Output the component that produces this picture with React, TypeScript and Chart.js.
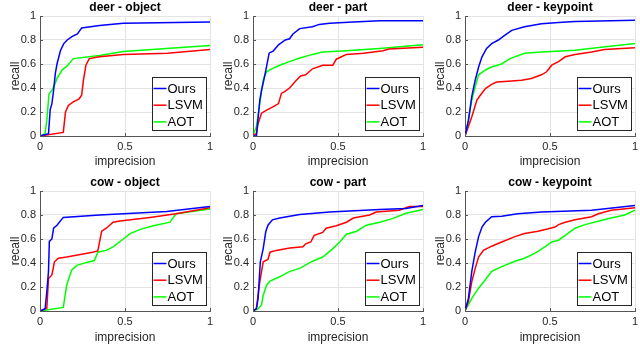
import React, { useEffect, useRef } from "react";
import { Chart, registerables } from "chart.js";

Chart.register(...registerables);

const seriesLabels = ["Ours", "LSVM", "AOT"];
const seriesColors = ["#0000ff", "#ff0000", "#00ff00"];
const xTickValues = [0, 0.5, 1];
const yTickValues = [0, 0.2, 0.4, 0.6, 0.8, 1];

// [imprecision, recall]
const deerObjectOurs = [[0,0],[0.05,0.02],[0.06,0.22],[0.07,0.27],[0.08,0.38],[0.09,0.52],[0.10,0.60],[0.12,0.71],[0.14,0.77],[0.16,0.80],[0.19,0.83],[0.22,0.85],[0.235,0.88],[0.245,0.90],[0.35,0.92],[0.49,0.94],[1,0.95]];
const deerObjectLsvm = [[0,0],[0.137,0.03],[0.15,0.2],[0.167,0.255],[0.196,0.285],[0.23,0.31],[0.245,0.34],[0.255,0.46],[0.27,0.59],[0.29,0.645],[0.35,0.66],[0.49,0.68],[0.75,0.69],[1,0.72]];
const deerObjectAot = [[0,0],[0.03,0.02],[0.04,0.13],[0.053,0.35],[0.07,0.38],[0.09,0.44],[0.10,0.48],[0.13,0.55],[0.157,0.58],[0.196,0.645],[0.35,0.67],[0.49,0.705],[0.745,0.73],[1,0.755]];

const deerPartOurs = [[0,0],[0.02,0],[0.04,0.3],[0.05,0.38],[0.06,0.44],[0.08,0.58],[0.095,0.69],[0.12,0.71],[0.15,0.76],[0.19,0.80],[0.215,0.81],[0.235,0.85],[0.275,0.895],[0.35,0.91],[0.39,0.93],[0.45,0.94],[0.59,0.95],[0.745,0.96],[1,0.96]];
const deerPartLsvm = [[0,0],[0.02,0.02],[0.03,0.105],[0.05,0.19],[0.08,0.215],[0.12,0.245],[0.15,0.27],[0.167,0.355],[0.186,0.37],[0.215,0.40],[0.255,0.465],[0.28,0.50],[0.31,0.51],[0.35,0.56],[0.41,0.59],[0.47,0.59],[0.49,0.64],[0.52,0.66],[0.55,0.68],[0.65,0.69],[0.765,0.71],[0.80,0.725],[1,0.74]];
const deerPartAot = [[0,0],[0.02,0.08],[0.04,0.27],[0.06,0.47],[0.08,0.535],[0.11,0.56],[0.157,0.59],[0.215,0.62],[0.275,0.65],[0.35,0.68],[0.41,0.70],[0.55,0.71],[0.745,0.73],[1,0.76]];

const deerKeypointOurs = [[0,0],[0.02,0.13],[0.04,0.33],[0.06,0.465],[0.08,0.575],[0.10,0.66],[0.127,0.73],[0.157,0.77],[0.196,0.80],[0.235,0.84],[0.275,0.88],[0.35,0.91],[0.45,0.935],[0.55,0.945],[0.647,0.955],[1,0.965]];
const deerKeypointLsvm = [[0,0],[0.02,0.08],[0.04,0.16],[0.07,0.30],[0.09,0.34],[0.12,0.395],[0.157,0.43],[0.186,0.45],[0.255,0.457],[0.333,0.465],[0.39,0.48],[0.45,0.51],[0.48,0.535],[0.51,0.59],[0.55,0.62],[0.59,0.66],[0.647,0.68],[0.745,0.70],[0.82,0.72],[1,0.735]];
const deerKeypointAot = [[0,0],[0.02,0.13],[0.04,0.30],[0.06,0.41],[0.08,0.51],[0.12,0.55],[0.157,0.575],[0.215,0.60],[0.265,0.645],[0.35,0.69],[0.45,0.70],[0.647,0.715],[0.80,0.74],[1,0.77]];

const cowObjectOurs = [[0,0],[0.03,0.017],[0.04,0.16],[0.05,0.33],[0.055,0.58],[0.07,0.60],[0.08,0.69],[0.10,0.715],[0.137,0.78],[0.35,0.80],[0.745,0.83],[1,0.87]];
const cowObjectLsvm = [[0,0],[0.03,0.02],[0.04,0.02],[0.05,0.27],[0.07,0.30],[0.085,0.41],[0.108,0.44],[0.157,0.45],[0.31,0.49],[0.34,0.50],[0.363,0.665],[0.39,0.69],[0.43,0.74],[0.47,0.75],[0.647,0.78],[0.80,0.81],[1,0.86]];
const cowObjectAot = [[0,0],[0.137,0.03],[0.157,0.215],[0.167,0.26],[0.186,0.34],[0.216,0.38],[0.275,0.405],[0.32,0.42],[0.34,0.49],[0.39,0.505],[0.43,0.535],[0.49,0.60],[0.53,0.645],[0.59,0.68],[0.667,0.71],[0.765,0.74],[0.80,0.81],[1,0.85]];

const cowPartOurs = [[0,0],[0.02,0.02],[0.03,0.105],[0.043,0.41],[0.06,0.52],[0.075,0.66],[0.088,0.715],[0.114,0.76],[0.157,0.775],[0.275,0.805],[0.45,0.825],[0.745,0.845],[0.90,0.855],[1,0.88]];
const cowPartLsvm = [[0,0],[0.02,0.02],[0.04,0.245],[0.06,0.41],[0.088,0.43],[0.10,0.49],[0.137,0.505],[0.216,0.525],[0.294,0.535],[0.31,0.56],[0.34,0.575],[0.36,0.63],[0.41,0.655],[0.43,0.69],[0.49,0.71],[0.55,0.74],[0.59,0.775],[0.686,0.80],[0.725,0.825],[0.86,0.84],[0.92,0.87],[1,0.87]];
const cowPartAot = [[0,0],[0.03,0.017],[0.05,0.05],[0.06,0.13],[0.08,0.215],[0.10,0.25],[0.157,0.285],[0.216,0.33],[0.275,0.355],[0.35,0.415],[0.41,0.45],[0.47,0.52],[0.51,0.575],[0.55,0.64],[0.61,0.665],[0.667,0.715],[0.745,0.74],[0.82,0.77],[0.90,0.815],[1,0.845]];

const cowKeypointOurs = [[0,0],[0.02,0.105],[0.04,0.33],[0.06,0.49],[0.08,0.62],[0.10,0.70],[0.12,0.74],[0.157,0.785],[0.216,0.79],[0.31,0.81],[0.45,0.825],[0.745,0.84],[1,0.88]];
const cowKeypointLsvm = [[0,0],[0.02,0.08],[0.04,0.245],[0.06,0.355],[0.08,0.45],[0.108,0.505],[0.157,0.54],[0.216,0.575],[0.294,0.62],[0.35,0.645],[0.43,0.665],[0.49,0.685],[0.53,0.70],[0.55,0.72],[0.59,0.74],[0.647,0.76],[0.745,0.785],[0.784,0.81],[0.86,0.84],[1,0.86]];
const cowKeypointAot = [[0,0],[0.04,0.105],[0.08,0.19],[0.12,0.26],[0.157,0.33],[0.216,0.37],[0.294,0.415],[0.35,0.44],[0.41,0.48],[0.47,0.535],[0.51,0.575],[0.55,0.59],[0.59,0.63],[0.647,0.69],[0.706,0.72],[0.80,0.755],[0.86,0.775],[0.94,0.80],[1,0.84]];

const panelTitles = ["deer - object", "deer - part", "deer - keypoint", "cow - object", "cow - part", "cow - keypoint"];
const panelSeries = [
  [deerObjectOurs, deerObjectLsvm, deerObjectAot],
  [deerPartOurs, deerPartLsvm, deerPartAot],
  [deerKeypointOurs, deerKeypointLsvm, deerKeypointAot],
  [cowObjectOurs, cowObjectLsvm, cowObjectAot],
  [cowPartOurs, cowPartLsvm, cowPartAot],
  [cowKeypointOurs, cowKeypointLsvm, cowKeypointAot],
];

const FONT = "'Liberation Sans', Arial, Helvetica, sans-serif";
const AXIS_COLOR = "#555555";
const TEXT_COLOR = "#262626";

const decorPlugin = {
  id: "matlabDecor",
  afterDraw(chart: any, _args: any, opts: any) {
    const { ctx, chartArea } = chart;
    const xs = chart.scales.x;
    const ys = chart.scales.y;
    ctx.save();
    // title centred over the plot area
    ctx.font = `bold 12px ${FONT}`;
    ctx.fillStyle = "#000000";
    ctx.textAlign = "center";
    ctx.textBaseline = "alphabetic";
    ctx.fillText(opts.title, (chartArea.left + chartArea.right) / 2, opts.titleBaseline);

    // inward tick marks
    ctx.strokeStyle = AXIS_COLOR;
    ctx.lineWidth = 1;
    ctx.beginPath();
    yTickValues.forEach((v) => {
      const py = Math.round(ys.getPixelForValue(v)) + 0.5;
      ctx.moveTo(chartArea.left, py);
      ctx.lineTo(chartArea.left + 3, py);
    });
    xTickValues.forEach((v) => {
      const px = Math.round(xs.getPixelForValue(v)) + 0.5;
      ctx.moveTo(px, chartArea.bottom);
      ctx.lineTo(px, chartArea.bottom - 3);
    });
    ctx.stroke();

    // legend box inside lower right
    const boxW = 54;
    const boxH = 53;
    const bx = Math.round(chartArea.right - 4 - boxW) + 0.5;
    const by = Math.round(chartArea.bottom - 6 - boxH) + 0.5;
    ctx.fillStyle = "#ffffff";
    ctx.fillRect(bx, by, boxW, boxH);
    ctx.strokeStyle = "#262626";
    ctx.lineWidth = 1;
    ctx.strokeRect(bx, by, boxW, boxH);
    ctx.font = `13px ${FONT}`;
    ctx.textBaseline = "middle";
    ctx.textAlign = "left";
    chart.data.datasets.forEach((ds: any, i: number) => {
      const cy = by + 11 + i * 16.7;
      ctx.strokeStyle = ds.borderColor;
      ctx.lineWidth = 1.5;
      ctx.beginPath();
      ctx.moveTo(bx + 1, cy);
      ctx.lineTo(bx + 14, cy);
      ctx.stroke();
      ctx.fillStyle = "#000000";
      ctx.fillText(ds.label, bx + 15, cy + 0.5);
    });
    ctx.restore();
  },
};

const fmt = (v: any) => `${Math.round(Number(v) * 10) / 10}`;

type PanelProps = {
  title: string;
  series: number[][][];
  left: number;
  top: number;
  width: number;
  height: number;
  padTop: number;
  titleBaseline: number;
  xAxisHeight: number;
  xTitlePad: number;
};

function Panel({ title, series, left, top, width, height, padTop, titleBaseline, xAxisHeight, xTitlePad }: PanelProps) {
  const ref = useRef<HTMLCanvasElement | null>(null);
  useEffect(() => {
    if (!ref.current) return;
    const chart = new Chart(ref.current, {
      type: "line",
      data: {
        datasets: series.map((pts, i) => ({
          label: seriesLabels[i],
          data: pts.map(([x, y]) => ({ x, y })),
          borderColor: seriesColors[i],
          backgroundColor: seriesColors[i],
          borderWidth: 1.5,
          pointRadius: 0,
          tension: 0,
          fill: false,
        })),
      },
      options: {
        animation: false,
        responsive: false,
        devicePixelRatio: 1,
        events: [],
        layout: { padding: { top: padTop, right: 3, left: 0, bottom: 0 } },
        plugins: {
          legend: { display: false },
          tooltip: { enabled: false },
          title: { display: false },
          matlabDecor: { title, titleBaseline },
        },
        scales: {
          x: {
            type: "linear",
            min: 0,
            max: 1,
            afterBuildTicks: (scale: any) => {
              scale.ticks = xTickValues.map((v) => ({ value: v }));
            },
            afterFit: (scale: any) => {
              scale.height = xAxisHeight;
              scale.paddingLeft = 0;
              scale.paddingRight = 0;
            },
            ticks: {
              color: TEXT_COLOR,
              font: { family: FONT, size: 11 },
              padding: 4,
              maxRotation: 0,
              autoSkip: false,
              callback: fmt,
            },
            grid: { color: "#e3e3e3", drawTicks: false, lineWidth: 1 },
            border: { color: AXIS_COLOR, width: 1 },
            title: {
              display: true,
              text: "imprecision",
              color: TEXT_COLOR,
              font: { family: FONT, size: 12 },
              padding: { top: 0, bottom: xTitlePad },
            },
          },
          y: {
            type: "linear",
            min: 0,
            max: 1,
            afterBuildTicks: (scale: any) => {
              scale.ticks = yTickValues.map((v) => ({ value: v }));
            },
            afterFit: (scale: any) => {
              scale.width = 40;
              scale.paddingTop = 0;
              scale.paddingBottom = 0;
            },
            ticks: {
              color: TEXT_COLOR,
              font: { family: FONT, size: 11 },
              padding: 4,
              autoSkip: false,
              callback: fmt,
            },
            grid: { color: "#e3e3e3", drawTicks: false, lineWidth: 1 },
            border: { color: AXIS_COLOR, width: 1 },
            title: {
              display: true,
              text: "recall",
              color: TEXT_COLOR,
              font: { family: FONT, size: 12 },
              padding: { top: 8, bottom: 0 },
            },
          },
        },
      },
      plugins: [decorPlugin],
    } as any);
    return () => chart.destroy();
  }, [title, series, padTop, titleBaseline, xAxisHeight, xTitlePad]);

  return (
    <canvas
      ref={ref}
      width={width}
      height={height}
      style={{ position: "absolute", left, top, width, height }}
    />
  );
}

const colLefts = [0, 213, 425];
const rowTops = [0, 172];
const rowHeights = [172, 177];
const rowPadTop = [16, 19];
const rowTitleBaseline = [11, 13.5];
const rowXAxisHeight = [36, 38];
const rowXTitlePad = [3, 4];

export default function App() {
  return (
    <div
      style={{
        position: "absolute",
        left: 0,
        top: 0,
        width: 640,
        height: 349,
        background: "#ffffff",
        overflow: "hidden",
      }}
    >
      {panelTitles.map((t, i) => {
        const r = Math.floor(i / 3);
        const c = i % 3;
        return (
          <Panel
            key={t}
            title={t}
            series={panelSeries[i]}
            left={colLefts[c]}
            top={rowTops[r]}
            width={213}
            height={rowHeights[r]}
            padTop={rowPadTop[r]}
            titleBaseline={rowTitleBaseline[r]}
            xAxisHeight={rowXAxisHeight[r]}
            xTitlePad={rowXTitlePad[r]}
          />
        );
      })}
    </div>
  );
}
